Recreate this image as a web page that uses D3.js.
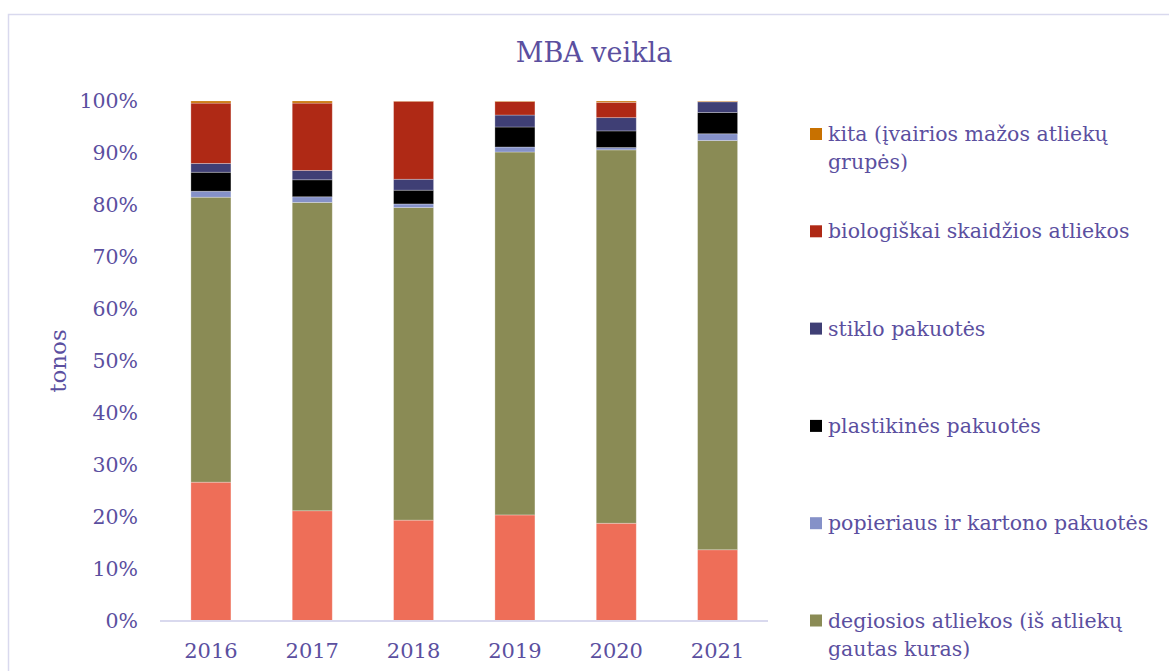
<!DOCTYPE html>
<html>
<head>
<meta charset="utf-8">
<script src="https://cdn.jsdelivr.net/npm/d3@7"></script>
<style>
  html, body { margin: 0; padding: 0; background: #fff; overflow: hidden; }
  svg { display: block; }
  text { font-family: Georgia, "DejaVu Serif", "Liberation Serif", serif; fill: #5b4f9f; }
</style>
</head>
<body>
<svg id="chart" width="1169" height="671"></svg>
<script>
const years = ["2016", "2017", "2018", "2019", "2020", "2021"];
const seriesNames = [
  "kitos atliekos",
  "degiosios atliekos (iš atliekų gautas kuras)",
  "popieriaus ir kartono pakuotės",
  "plastikinės pakuotės",
  "stiklo pakuotės",
  "biologiškai skaidžios atliekos",
  "kita (įvairios mažos atliekų grupės)"
];
const seriesColors = ["#ee6e58", "#8a8b55", "#8591c8", "#000000", "#3f3f75", "#af2915", "#c87100"];
const salmonValues = [26.7, 21.2, 19.4, 20.4, 18.8, 13.7];
const degiosiosValues = [54.8, 59.3, 60.1, 69.8, 71.8, 78.7];
const popieriausValues = [1.15, 1.08, 0.7, 0.96, 0.45, 1.3];
const plastikinesValues = [3.65, 3.27, 2.65, 3.85, 3.2, 4.1];
const stikloValues = [1.7, 1.8, 2.1, 2.3, 2.55, 2.05];
const biologiskaiValues = [11.6, 12.95, 15.0, 2.6, 2.95, 0.05];
const kitaValues = [0.4, 0.4, 0.05, 0.1, 0.25, 0.1];
const yTicks = [0, 0.1, 0.2, 0.3, 0.4, 0.5, 0.6, 0.7, 0.8, 0.9, 1.0];
const legendOrder = [6, 5, 4, 3, 2, 1];
const legendLines = [
  ["kita (įvairios mažos atliekų", "grupės)"],
  ["biologiškai skaidžios atliekos"],
  ["stiklo pakuotės"],
  ["plastikinės pakuotės"],
  ["popieriaus ir kartono pakuotės"],
  ["degiosios atliekos (iš atliekų", "gautas kuras)"]
];
const titleText = "MBA veikla";
const yTitle = "tonos";

const allValues = [salmonValues, degiosiosValues, popieriausValues, plastikinesValues, stikloValues, biologiskaiValues, kitaValues];
const table = years.map((y, i) => {
  const row = { year: y };
  seriesNames.forEach((s, k) => { row[s] = allValues[k][i]; });
  return row;
});

const svg = d3.select("#chart");
// outer border
svg.append("rect").attr("x", 8.5).attr("y", 14.5).attr("width", 1200).attr("height", 700)
  .attr("fill", "none").attr("stroke", "#d9d9ee").attr("stroke-width", 1.5);

const x = d3.scaleBand().domain(years).range([160.5, 768]).paddingInner(0.605).paddingOuter(0.3);
const y = d3.scaleLinear().domain([0, 1]).range([621, 101]);

const stack = d3.stack().keys(seriesNames).offset(d3.stackOffsetExpand);
const stacked = stack(table);

svg.append("g").selectAll("g").data(stacked).join("g")
  .attr("fill", (d, i) => seriesColors[i])
  .selectAll("rect").data(d => d).join("rect")
  .attr("x", d => x(d.data.year))
  .attr("width", x.bandwidth())
  .attr("y", d => y(d[1]))
  .attr("height", d => Math.max(0, y(d[0]) - y(d[1])))
  .attr("stroke", "rgba(255,255,255,0.35)")
  .attr("stroke-width", 0.8);

// x axis
const xAxis = svg.append("g").attr("transform", "translate(0,621)")
  .call(d3.axisBottom(x).tickSize(0).tickPadding(22));
xAxis.select(".domain").attr("stroke", "#d9d9ee").attr("stroke-width", 2)
  .attr("d", "M160,0H768");
xAxis.selectAll("text").attr("font-size", 21).style("fill", "#5b4f9f")
  .style("font-family", 'Georgia, "DejaVu Serif", serif');

// y axis
const yAxis = svg.append("g").attr("transform", "translate(139,0)")
  .call(d3.axisLeft(y).tickValues(yTicks).tickFormat(d3.format(".0%")).tickSize(0).tickPadding(1));
yAxis.select(".domain").remove();
yAxis.selectAll("text").attr("font-size", 20.5).style("fill", "#5b4f9f")
  .style("font-family", 'Georgia, "DejaVu Serif", serif');

// title
svg.append("text").attr("x", 594).attr("y", 62).attr("text-anchor", "middle")
  .attr("font-size", 27).text(titleText);

// y title
svg.append("text").attr("transform", "translate(66,361) rotate(-90)")
  .attr("text-anchor", "middle").attr("font-size", 23).text(yTitle);

// legend
const lg = svg.append("g");
legendOrder.forEach((k, i) => {
  const top = 128 + i * 97.3;
  lg.append("rect").attr("x", 810).attr("y", top).attr("width", 12).attr("height", 12)
    .attr("fill", seriesColors[k]);
  legendLines[i].forEach((line, j) => {
    lg.append("text").attr("x", 828).attr("y", top + 13 + j * 28)
      .attr("font-size", 20.5).text(line);
  });
});
</script>
</body>
</html>
